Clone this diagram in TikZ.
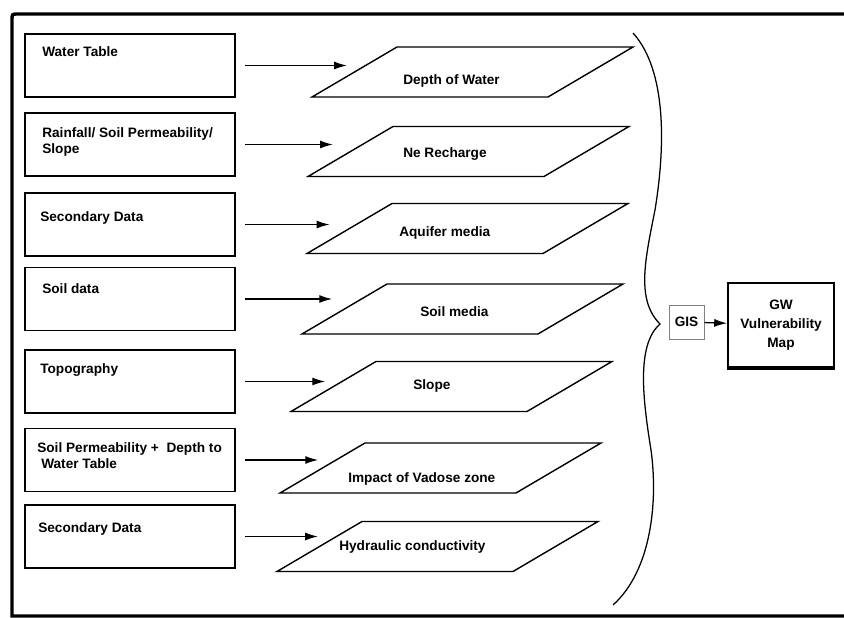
\documentclass[tikz,border=0pt]{standalone}
\usepackage{fontspec}
\setmainfont{Liberation Sans}
\usetikzlibrary{arrows.meta}

\begin{document}
\begin{tikzpicture}[x=0.025cm,y=-0.025cm,font=\bfseries\fontsize{9.7}{11.4}\selectfont,
    feed/.style={-{Latex[length=0.32cm,width=0.2cm]},line width=0.9pt,shorten <=0.225cm}]
  \tikzstyle{source}=[draw,line width=1.4pt,minimum width=5.25cm,minimum height=1.575cm,inner sep=0pt]
  \tikzstyle{layer}=[draw,line width=1pt]
  \tikzstyle{txt}=[inner sep=0pt,align=left,anchor=north west]
  \tikzstyle{ltxt}=[inner sep=0pt,anchor=base west]
  \useasboundingbox (0,0) rectangle (844,618);

  % frame
  \draw[line width=2.4pt] (844,616) -- (12,616) -- (12,20) .. controls (12,14) .. (18,14) -- (844,14);

  % input data
  \node[source] (w1) at (130,65.5) {};
  \node[source] (w2) at (130,144.5) {};
  \node[source] (w3) at (130,224.5) {};
  \node[source] (w4) at (130,299) {};
  \node[source] (w5) at (130,381.5) {};
  \node[source] (w6) at (130,460) {};
  \node[source] (w7) at (130,536.5) {};

  \node[txt] (s1) at (42,46) {Water Table};
  \node[txt] (s2) at (42,127) {Rainfall/ Soil Permeability/\\Slope};
  \node[txt] (s3) at (40,211) {Secondary Data};
  \node[txt] (s4) at (42,283) {Soil data};
  \node[txt] (s5) at (40,363) {Topography};
  \node[txt] (s6) at (37,442) {Soil Permeability +~ Depth to\\\hspace{0.1cm}Water Table};
  \node[txt] (s7) at (38,522) {Secondary Data};

  % thematic layers (coordinate = middle of the left side)
  \coordinate (d1) at (354.5,72);
  \coordinate (d2) at (350.5,151.5);
  \coordinate (d3) at (349.5,228.5);
  \coordinate (d4) at (344.5,309);
  \coordinate (d5) at (333.5,386.5);
  \coordinate (d6) at (322.5,468);
  \coordinate (d7) at (319.5,546.5);
  \foreach \d in {d1,d2,d3,d4,d5,d6,d7}
    \draw[layer] (\d) ++(-42.5,25) -- ++(236,0) -- ++(85,-50) -- ++(-236,0) -- cycle;

  \node[ltxt] (l1) at (403,84) {Depth of Water};
  \node[ltxt] (l2) at (403,157) {Ne Recharge};
  \node[ltxt] (l3) at (399,236) {Aquifer media};
  \node[ltxt] (l4) at (420,316.5) {Soil media};
  \node[ltxt] (l5) at (413,389) {Slope};
  \node[ltxt] (l6) at (348,482) {Impact of Vadose zone};
  \node[ltxt] (l7) at (339,550) {Hydraulic conductivity};

  \draw[feed,shorten >=0.19cm] (w1.east) -- (w1.east -| d1);
  \draw[feed,shorten >=0.44cm] (w2.east) -- (w2.east -| d2);
  \draw[feed,shorten >=0.5cm] (w3.east) -- (w3.east -| d3);
  \draw[feed,shorten >=0.31cm] (w4.east) -- (w4.east -| d4);
  \draw[feed,shorten >=0.21cm] (w5.east) -- (w5.east -| d5);
  \draw[feed,shorten >=0.11cm] (w6.east) -- (w6.east -| d6);
  \draw[feed,shorten >=0.04cm] (w7.east) -- (w7.east -| d7);

  % brace
  \coordinate (tip) at (660,324);
  \draw[line width=0.9pt] (633,33) .. controls (662,65) and (668,130) .. (655,210)
    .. controls (645,260) and (636,300) .. (tip)
    .. controls (636,345) and (643,400) .. (651,450)
    .. controls (658,500) and (652,570) .. (613,605);

  % overlay and output
  \node[draw=gray,line width=0.7pt,minimum width=0.875cm,minimum height=0.85cm,inner sep=0pt] (gis) at (686.5,322) {GIS};
  \node[draw,line width=1.4pt,minimum width=2.65cm,minimum height=2.1cm,inner sep=0pt,align=center,
    font=\bfseries\fontsize{9.7}{13.5}\selectfont] (gw) at (781,325) {GW\\Vulnerability\\Map};
  \draw[line width=2.4pt] (gw.south west) -- (gw.south east);
  \draw[feed,shorten <=0pt] (gis) -- (gw);
\end{tikzpicture}
\end{document}
